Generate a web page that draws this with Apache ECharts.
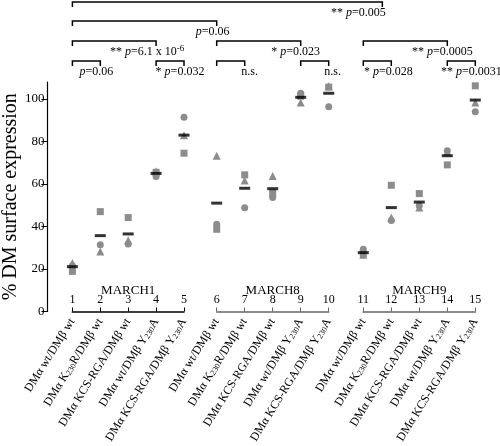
<!DOCTYPE html>
<html><head><meta charset="utf-8">
<script src="https://cdn.jsdelivr.net/npm/echarts@6/dist/echarts.min.js"></script>
<style>html,body{margin:0;padding:0;background:#fff}#c{width:500px;height:446px}</style>
</head><body><div id="c"></div>
<script>
const categories = [
  'DMα wt/DMβ wt','DMα K230R/DMβ wt','DMα KCS-RGA/DMβ wt','DMα wt/DMβ Y230A','DMα KCS-RGA/DMβ Y230A',
  'DMα wt/DMβ wt','DMα K230R/DMβ wt','DMα KCS-RGA/DMβ wt','DMα wt/DMβ Y230A','DMα KCS-RGA/DMβ Y230A',
  'DMα wt/DMβ wt','DMα K230R/DMβ wt','DMα KCS-RGA/DMβ wt','DMα wt/DMβ Y230A','DMα KCS-RGA/DMβ Y230A'
];
const laneNumbers = ['1','2','3','4','5','6','7','8','9','10','11','12','13','14','15'];
const groups = ['MARCH1','MARCH8','MARCH9'];
const circleVals   = [21.5, 31.4, 31.8, 63.5, 91.4, 41.1, 48.8, 53.6, 102.7, 96.4, 29.3, 42.8, 49.8, 75.7, 94.0];
const squareVals   = [18.9, 47.0, 44.2, 65.5, 74.5, 38.7, 64.3, 55.8, 101.3, 105.6, 27.2, 59.4, 55.5, 69.0, 106.2];
const triangleVals = [22.8, 28.2, 33.5, 66.0, 83.0, 73.3, 61.6, 63.8, 98.4, 106.0, 26.7, 44.2, 48.9, 75.2, 98.3];
const meanVals     = [21.1, 35.7, 36.5, 65.0, 83.0, 51.0, 58.0, 57.8, 100.8, 102.7, 27.7, 48.9, 51.5, 73.3, 99.5];
const yTicks = [0, 20, 40, 60, 80, 100];
const brackets = [
  {from: 1, to: 11.68, level: 0, text: '**p=0.005', dx: -24},
  {from: 1, to: 6, level: 1, text: 'p=0.06', dx: -4},
  {from: 1, to: 4, level: 2, text: '**p=6.1 x 10^-6', dx: -9},
  {from: 6, to: 9, level: 2, text: '*p=0.023', dx: -5},
  {from: 11, to: 14, level: 2, text: '**p=0.0005', dx: -5},
  {from: 1, to: 2, level: 3, text: 'p=0.06', dx: -4},
  {from: 4, to: 5, level: 3, text: '*p=0.032', dx: -4},
  {from: 6, to: 7, level: 3, text: 'n.s.', dx: 5},
  {from: 9, to: 10, level: 3, text: 'n.s.', dx: 4},
  {from: 11, to: 12, level: 3, text: '*p=0.028', dx: -3},
  {from: 14, to: 15, level: 3, text: '**p=0.0031', dx: -4}
];

const FONT = 'Liberation Serif';
const GRAY = '#8c8c8c';
const gridLefts = [72, 216.7, 363.3];
const chart = echarts.init(document.getElementById('c'));

const grids = [], xAxes = [], yAxes = [], series = [];
for (let g = 0; g < 3; g++) {
  grids.push({left: gridLefts[g], top: 82, width: 112, height: 229.7});
  xAxes.push({
    type: 'category', gridIndex: g, data: categories.slice(g*5, g*5+5), boundaryGap: false,
    axisLine: {lineStyle: {color: g === 0 ? '#000' : '#666', width: 1.5}},
    axisTick: {inside: true, length: 4, lineStyle: {color: g === 0 ? '#000' : '#666'}},
    axisLabel: {
      interval: 0, rotate: 58, margin: 8, color: '#000', fontFamily: FONT, fontSize: 12,
      formatter: v => v.replace(/(\d{3})/g, '{s|$1}'),
      rich: {s: {fontSize: 8, fontFamily: FONT, color: '#000', verticalAlign: 'bottom', padding: [4,0,0,0]}}
    },
    splitLine: {show: false}
  });
  xAxes.push({
    type: 'category', gridIndex: g, position: 'bottom', data: laneNumbers.slice(g*5, g*5+5), boundaryGap: false,
    axisLine: {show: false}, axisTick: {show: false},
    axisLabel: {inside: true, interval: 0, margin: 6, color: '#000', fontFamily: FONT, fontSize: 12},
    splitLine: {show: false}
  });
  yAxes.push(g === 0 ? {
    type: 'value', gridIndex: 0, min: 0, max: 108, offset: 25,
    name: '% DM surface expression', nameLocation: 'middle', nameGap: 21,
    nameTextStyle: {fontFamily: FONT, fontSize: 20, color: '#000'},
    axisLine: {show: true, lineStyle: {color: '#000', width: 1.2}},
    axisTick: {show: true, length: 6, customValues: yTicks, lineStyle: {color: '#000'}},
    axisLabel: {customValues: yTicks, margin: 3, color: '#000', fontFamily: FONT, fontSize: 13},
    splitLine: {show: false}
  } : {type: 'value', gridIndex: g, min: 0, max: 108, show: false, splitLine: {show: false}});
  const sl = a => a.slice(g*5, g*5+5);
  const base = {type: 'scatter', xAxisIndex: g*2, yAxisIndex: g, silent: true, itemStyle: {color: GRAY, opacity: 1}};
  series.push(Object.assign({}, base, {symbol: 'circle', symbolSize: 7, data: sl(circleVals)}));
  series.push(Object.assign({}, base, {symbol: 'rect', symbolSize: 7, data: sl(squareVals)}));
  series.push(Object.assign({}, base, {symbol: 'triangle', symbolSize: 8, data: sl(triangleVals)}));
  series.push(Object.assign({}, base, {symbol: 'rect', symbolSize: [11, 3], z: 5, itemStyle: {color: '#000'}, data: sl(meanVals)}));
}

chart.setOption({
  animation: false,
  backgroundColor: '#fff',
  grid: grids, xAxis: xAxes, yAxis: yAxes, series: series
});

function catX(n) {
  const i = Math.floor(n) - 1;
  const frac = n - Math.floor(n);
  const px = k => { const g = Math.floor(k/5); return chart.convertToPixel({xAxisIndex: g*2}, k%5); };
  if (frac === 0) return px(i);
  return px(i) + frac * (px(i+1) - px(i));
}
function richText(t) {
  if (t === 'n.s.') return '{n|n.s.}';
  const m = t.match(/^(\**)p(.*)$/);
  let s = m[1] ? '{a|' + m[1] + '} ' : '';
  let rest = m[2];
  let sup = '';
  const k = rest.indexOf('^');
  if (k >= 0) { sup = '{sup|' + rest.slice(k+1) + '}'; rest = rest.slice(0, k); }
  return s + '{i|p}{n|' + rest + '}' + sup;
}
const levelY = [2, 21, 41, 61];
const graphics = [];
brackets.forEach(b => {
  const x1 = catX(b.from), x2 = catX(b.to), y = levelY[b.level];
  graphics.push({type: 'polyline', shape: {points: [[x1, y+5], [x1, y], [x2, y], [x2, y+5]]},
    style: {stroke: '#000', lineWidth: 1.5, fill: null}});
  graphics.push({type: 'text', x: x2 + b.dx, y: y + 11, style: {
    text: richText(b.text), align: 'center', verticalAlign: 'middle', fill: '#000',
    fontFamily: FONT, fontSize: 12,
    rich: {
      a: {fontFamily: FONT, fontSize: 12, fill: '#000', lineHeight: 16},
      i: {fontFamily: FONT, fontSize: 12, fontStyle: 'italic', fill: '#000', lineHeight: 16},
      n: {fontFamily: FONT, fontSize: 12, fill: '#000', lineHeight: 16},
      sup: {fontFamily: FONT, fontSize: 9, fill: '#000', verticalAlign: 'top', lineHeight: 16}
    }
  }});
});
groups.forEach((name, g) => {
  graphics.push({type: 'text', x: catX(g*5 + 3), y: 291, style: {
    text: name, align: 'center', verticalAlign: 'middle', fill: '#000', fontFamily: FONT, fontSize: 13}});
});
chart.setOption({graphic: graphics});
</script></body></html>
